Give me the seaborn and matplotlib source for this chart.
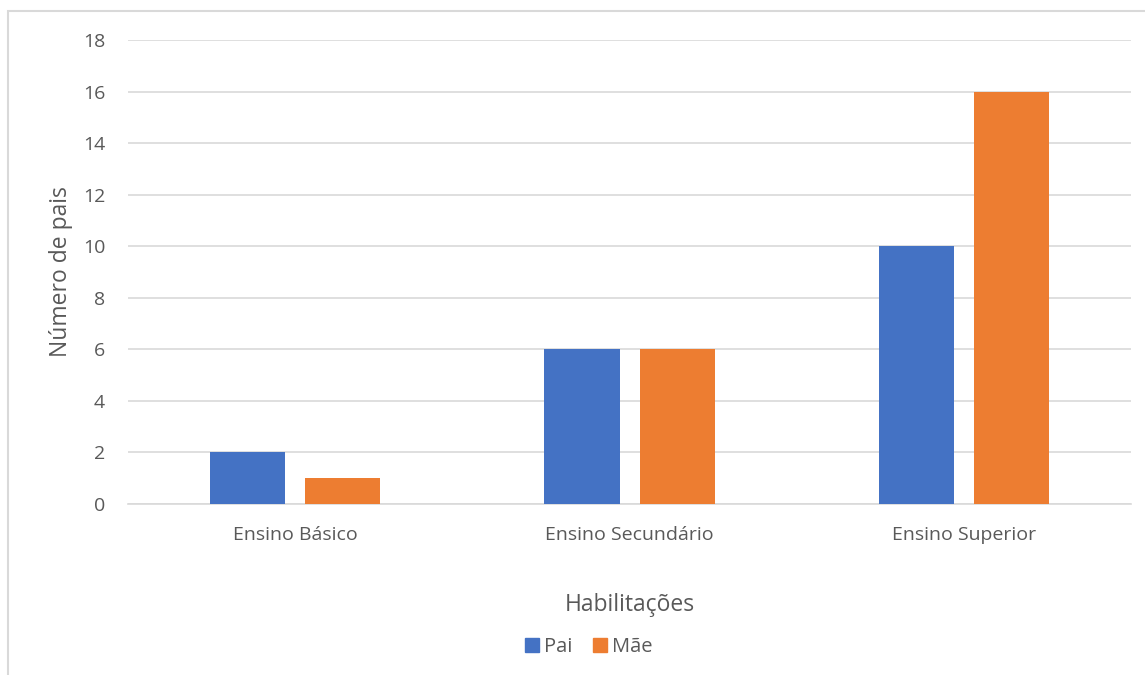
import matplotlib
matplotlib.use("Agg")
import matplotlib.pyplot as plt
import seaborn as sns
import pandas as pd
from matplotlib.patches import Rectangle

# data
categorias = ["Ensino Básico", "Ensino Secundário", "Ensino Superior"]
pai = [2, 6, 10]
mae = [1, 6, 16]
series = ["Pai", "Mãe"]
cores = ["#4472C4", "#ED7D31"]

df = pd.DataFrame({
    "Habilitações": categorias * 2,
    "valor": pai + mae,
    "serie": [series[0]] * 3 + [series[1]] * 3,
})

sns.set_theme(style="white")
plt.rcParams['font.family'] = ['Open Sans', 'DejaVu Sans']
texto = "#595959"
grelha = "#D9D9D9"

fig = plt.figure(figsize=(11.45, 6.75), dpi=100)
ax = fig.add_axes([0.1118, 0.2533, 0.876, 0.6874])

sns.barplot(data=df, x="Habilitações", y="valor", hue="serie",
            palette=cores, width=0.569, gap=0.21, saturation=1,
            linewidth=0, ax=ax, legend=False, zorder=3)

ax.set_ylim(0, 18)
ax.set_xlim(-0.5, 2.5)
ax.set_yticks(range(0, 19, 2))
ax.yaxis.grid(True, color=grelha, linewidth=1.2, zorder=0)
ax.set_axisbelow(True)
for s in ["top", "right", "left"]:
    ax.spines[s].set_visible(False)
ax.spines["bottom"].set_color(grelha)
ax.spines["bottom"].set_linewidth(1.2)
ax.tick_params(axis="both", length=0, labelsize=14, labelcolor=texto)
ax.tick_params(axis="y", pad=16.5)
ax.tick_params(axis="x", pad=16)

ax.set_ylabel("Número de pais", fontsize=16.5, color=texto, labelpad=7)
ax.set_xlabel("Habilitações", fontsize=16.5, color=texto, labelpad=35)

# legend
handles = [Rectangle((0, 0), 1, 1, color=c) for c in cores]
fig.legend(handles, series, loc="center", bbox_to_anchor=(0.514, 0.042),
           ncol=2, frameon=False, fontsize=14.5, handlelength=0.7,
           handleheight=0.7, handletextpad=0.25, columnspacing=1.0,
           labelcolor=texto)

# chart area border
fig.patches.append(Rectangle((8 / 1145, -0.1), 1.2, 0.1 + 1 - 11 / 675,
                             transform=fig.transFigure, fill=False,
                             edgecolor=grelha, linewidth=1.5))

fig.savefig("out.png", dpi=100)
